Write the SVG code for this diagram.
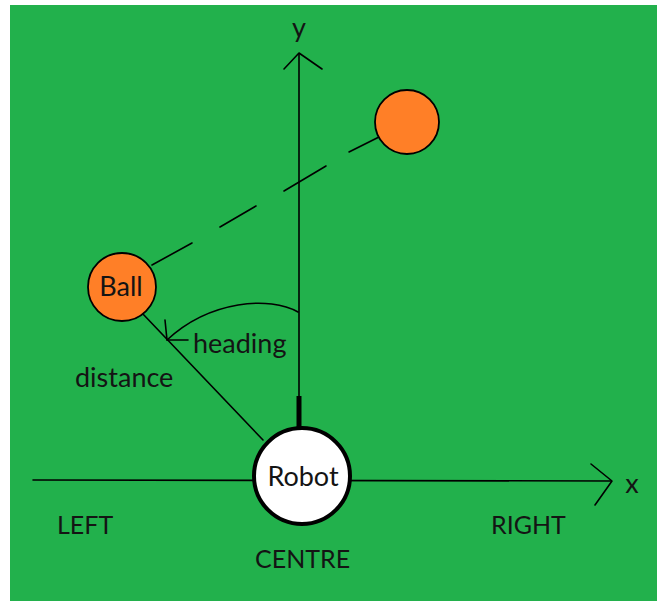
<svg xmlns="http://www.w3.org/2000/svg" width="658" height="601" viewBox="0 0 658 601">
<style>
.ln{stroke:#000;stroke-width:1.6;fill:none;stroke-linecap:round;stroke-linejoin:round}
.ball{fill:#FF7F27;stroke:#000;stroke-width:1.8}
.t{font-family:Lato,"Open Sans","Liberation Sans",sans-serif;font-size:27px;fill:#141414}
.c{font-size:25px}
</style>
<rect x="0" y="0" width="658" height="601" fill="#fff"/>
<rect x="10" y="5" width="647" height="596" fill="#22B14C"/>
<g id="connectors">
<line class="ln" x1="299" y1="54" x2="299" y2="425"/>
<line x1="299" y1="396" x2="299" y2="428" stroke="#000" stroke-width="5"/>
<polyline class="ln" points="284,69 299,53 322,69"/>
<line class="ln" x1="33" y1="480" x2="611" y2="481"/>
<polyline class="ln" points="591,464 612,481 595,505"/>
<g id="dashed">
<line class="ln" x1="152" y1="265" x2="192" y2="243"/>
<line class="ln" x1="220" y1="227" x2="256" y2="206"/>
<line class="ln" x1="284" y1="191" x2="326" y2="166"/>
<line class="ln" x1="349" y1="152" x2="379" y2="137"/>
</g>
<line class="ln" x1="142" y1="313" x2="263" y2="440"/>
<path class="ln" d="M298,312 C270,296 210,300 167,340"/>
<polyline class="ln" points="165,320 167,340 188,340"/>
</g>
<g id="ball-target"><circle class="ball" cx="407" cy="122" r="32"/></g>
<g id="ball"><circle class="ball" cx="122" cy="287" r="34"/><text class="t" x="121" y="296" text-anchor="middle">Ball</text></g>
<g id="robot"><circle cx="302" cy="476" r="48" fill="#fff" stroke="#000" stroke-width="4"/><text class="t" x="303" y="486" text-anchor="middle">Robot</text></g>
<g id="labels">
<text class="t" x="299" y="37" text-anchor="middle">y</text>
<text class="t" x="632" y="493" text-anchor="middle">x</text>
<text class="t" x="193" y="353">heading</text>
<text class="t" x="75" y="387">distance</text>
<text class="t c" x="57" y="534">LEFT</text>
<text class="t c" x="255" y="568">CENTRE</text>
<text class="t c" x="491" y="534">RIGHT</text>
</g>
</svg>
